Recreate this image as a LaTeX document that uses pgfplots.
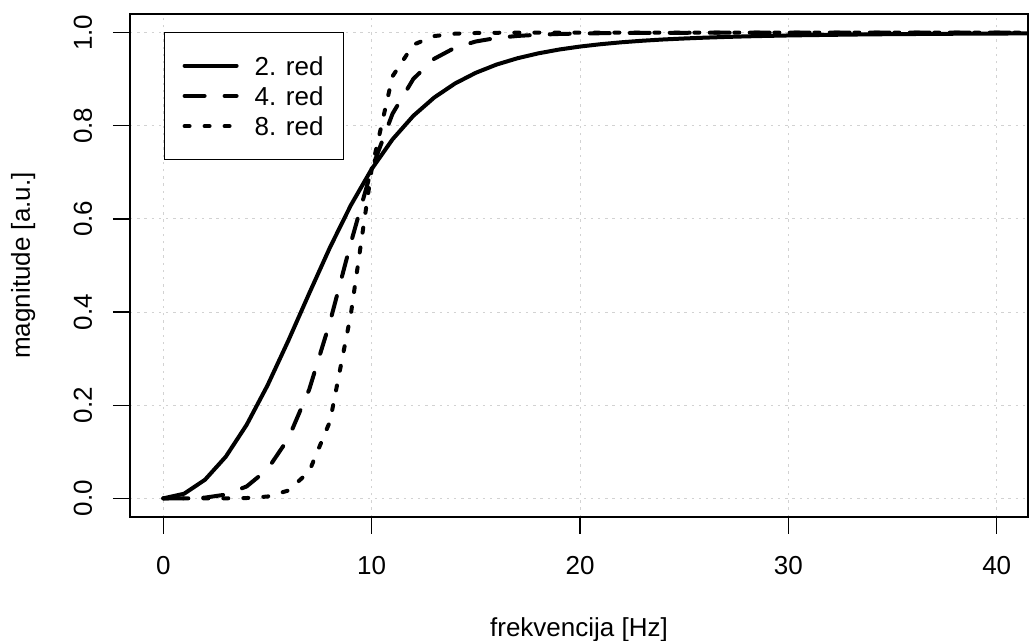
\documentclass[border=0pt]{standalone}
\usepackage{fontspec}
\setmainfont{Liberation Sans}
\usepackage{pgfplots}
\pgfplotsset{compat=1.18}
\begin{document}
\begin{tikzpicture}
\path[use as bounding box] (0,0) rectangle (515pt,320.5pt);
\begin{axis}[
  at={(65pt,62pt)}, anchor=south west,
  scale only axis, width=449pt, height=251.5pt,
  xmin=-1.6, xmax=41.5, ymin=-0.04, ymax=1.04,
  xtick={0,10,20,30,40}, ytick={0,0.2,0.4,0.6,0.8,1},
  tick align=outside, major tick length=8.5pt,
  tick style={black, line width=0.6pt},
  axis line style={black, line width=0.6pt},
  xtick pos=bottom, ytick pos=left,
  grid=major, major grid style={gray!35, line width=0.5pt, dash pattern=on 1.2pt off 2.4pt},
  /pgf/number format/assume math mode=true,
  yticklabel={\pgfmathprintnumber[fixed,fixed zerofill,precision=1]{\tick}},
  ticklabel style={font=\fontsize{13}{15}\selectfont},
  xticklabel style={anchor=base, inner sep=0pt, yshift=-20.5pt},
  yticklabel style={rotate=90, anchor=base, inner sep=0pt, yshift=10.5pt},
  xlabel={frekvencija [Hz]}, ylabel={magnitude [a.u.]},
  label style={font=\fontsize{13}{15}\selectfont},
  xlabel style={at={(axis description cs:0.5,0)}, anchor=base, inner sep=0pt, yshift=-60pt},
  ylabel style={at={(axis description cs:0,0.5)}, anchor=base, inner sep=0pt, yshift=50pt},
  clip=true,
  legend style={at={(axis description cs:0,1)}, anchor=north west, xshift=17pt, yshift=-9pt,
    draw=black, line width=0.6pt, fill=white, inner xsep=7pt, inner ysep=9pt,
    font=\fontsize{13}{15}\selectfont, column sep=5pt,
    nodes={inner xsep=3pt, inner ysep=2.8pt, text height=9.5pt, text depth=0pt}},
  legend cell align=left,
  legend image code/.code={\path (0pt,0pt); \draw[#1] (2pt,0pt) -- (28pt,0pt);},
]
\addplot[black, line width=2pt, line cap=round, line join=round] coordinates {
(0,0) (1,0.0100) (2,0.0400) (3,0.0896) (4,0.1580) (5,0.2425) (6,0.3387) (7,0.4400) (8,0.5390) (9,0.6294)
(10,0.7071) (11,0.7708) (12,0.8214) (13,0.8606) (14,0.8908) (15,0.9138) (16,0.9315) (17,0.9450) (18,0.9555) (19,0.9637)
(20,0.9701) (21,0.9752) (22,0.9793) (23,0.9826) (24,0.9853) (25,0.9874) (26,0.9892) (27,0.9907) (28,0.9920) (29,0.9930)
(30,0.9939) (31,0.9946) (32,0.9952) (33,0.9958) (34,0.9963) (35,0.9967) (36,0.9970) (37,0.9973) (38,0.9976) (39,0.9978)
(40,0.9980) (41,0.9982) (42,0.9984) (43,0.9985) (44,0.9986)
};
\addlegendentry{2. red}
\addplot[black, line width=2pt, line cap=round, line join=round, dash pattern=on 10pt off 10pt] coordinates {
(0,0) (1,0.0001) (2,0.0016) (3,0.0081) (4,0.0256) (5,0.0624) (6,0.1285) (7,0.2335) (8,0.3790) (9,0.5486)
(10,0.7071) (11,0.8258) (12,0.9007) (13,0.9438) (14,0.9677) (15,0.9810) (16,0.9886) (17,0.9929) (18,0.9955) (19,0.9971)
(20,0.9981) (21,0.9987) (22,0.9991) (23,0.9994) (24,0.9995) (25,0.9997) (26,0.9998) (27,0.9998) (28,0.9999) (29,0.9999)
(30,0.9999) (31,0.9999) (32,1.0000) (33,1.0000) (34,1.0000) (35,1.0000) (36,1.0000) (37,1.0000) (38,1.0000) (39,1.0000)
(40,1.0000) (41,1.0000) (42,1.0000) (43,1.0000) (44,1.0000)
};
\addlegendentry{4. red}
\addplot[black, line width=2pt, line cap=round, line join=round, dash pattern=on 2.5pt off 7.5pt] coordinates {
(0,0) (1,0.0000) (2,0.0000) (3,0.0001) (4,0.0007) (5,0.0039) (6,0.0168) (7,0.0576) (8,0.1655) (9,0.3954)
(10,0.7071) (11,0.9062) (12,0.9740) (13,0.9926) (14,0.9977) (15,0.9992) (16,0.9997) (17,0.9999) (18,1.0000) (19,1.0000)
(20,1.0000) (21,1.0000) (22,1.0000) (23,1.0000) (24,1.0000) (25,1.0000) (26,1.0000) (27,1.0000) (28,1.0000) (29,1.0000)
(30,1.0000) (31,1.0000) (32,1.0000) (33,1.0000) (34,1.0000) (35,1.0000) (36,1.0000) (37,1.0000) (38,1.0000) (39,1.0000)
(40,1.0000) (41,1.0000) (42,1.0000) (43,1.0000) (44,1.0000)
};
\addlegendentry{8. red}
\end{axis}
\end{tikzpicture}
\end{document}
